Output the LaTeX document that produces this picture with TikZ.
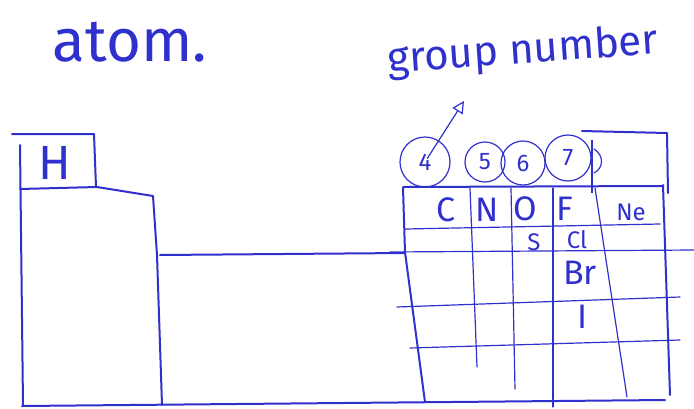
\documentclass[tikz,border=0pt]{standalone}
\usepackage{fontspec}
\setsansfont{Fira Sans}
\usepackage{xcolor}
\usepackage{tikz}
\usetikzlibrary{arrows.meta, positioning}
\definecolor{ink}{RGB}{48,48,205}

\begin{document}
\begin{tikzpicture}[
    x=1pt, y=-1pt,
    every node/.style={font=\sffamily, text=ink},
    pen/.style={draw=ink, line width=2pt, line cap=round, line join=round},
    gridline/.style={draw=ink, line width=1.2pt, line cap=round},
    grp/.style={circle, draw=ink, line width=1.2pt, inner sep=0pt,
                font=\sffamily\fontsize{24}{24}\selectfont},
    elem/.style={inner sep=1pt, font=\sffamily\fontsize{34}{34}\selectfont},
    small/.style={inner sep=1pt, font=\sffamily\fontsize{24}{24}\selectfont},
    arrow/.style={-{Triangle[open, length=12pt, width=12pt]}, draw=ink, line width=1.2pt},
    title/.style={font=\sffamily\fontsize{60}{60}\selectfont}
]
\useasboundingbox (0,0) rectangle (694,408);

% === Titles ===
\node[title] (atom) at (130,42) {atom.};
\node[font=\sffamily\fontsize{42}{42}\selectfont, rotate=4] (grpnum) at (523,52) {group number};

% === Left block: H ===
\draw[pen] (12,134) -- (94,134) -- (96,187);
\draw[pen] (20,145) -- (23,405);
\draw[pen] (20,189) -- (97,187) -- (153,196) -- (157,255) -- (162,405);
\node[font=\sffamily\fontsize{48}{48}\selectfont, inner sep=0pt] (H) at (55,163) {H};

% middle and bottom lines
\draw[pen] (160,255) -- (405,253);
\draw[pen] (22,406) -- (665,400);

% === Right block: grid ===
\draw[pen] (403,188) -- (405,252) -- (425,402);
\draw[pen] (403,187) -- (662,186);
\draw[pen] (663,185) -- (670,395);
\draw[gridline] (405,229) -- (660,224);
\draw[gridline] (390,252) -- (694,250);
\draw[gridline] (397,307) -- (680,297);
\draw[gridline] (410,348) -- (680,340);
\draw[gridline] (470,188) -- (477,367);
\draw[gridline] (511,188) -- (515,389);
\draw[gridline] (553,188) -- (553,407);
\draw[gridline] (595,188) -- (627,397);

% elements
\node[elem] (C) at (446,210) {C};
\node[elem] (N) at (487,210) {N};
\node[elem] (O) at (525,209) {O};
\node[elem] (F) at (565,209) {F};
\node[small] (Ne) at (631,212) {Ne};
\node[small] (S) at (534,242) {S};
\node[small] (Cl) at (577,240) {Cl};
\node[elem] (Br) at (580,273) {Br};
\node[elem] (I) at (583,317) {I};

% === Group numbers ===
\node[grp, minimum size=50pt] (g4) at (425,162) {4};
\node[grp, minimum size=40pt] (g5) at (485,162) {5};
\node[grp, minimum size=44pt] (g6) at (523,163) {6};
\node[grp, minimum size=46pt] (g7) at (568,158) {7};
\draw[gridline] (594,149) .. controls (604,155) and (604,168) .. (594,173);

\draw[pen] (582,131) -- (667,133) -- (668,193);
\draw[draw=ink, line width=2.6pt] (592,140) -- (592,193);

\coordinate (gtip) at (464,101);
\draw[arrow, shorten <=4pt] (g4.center) -- (gtip);

\end{tikzpicture}
\end{document}
